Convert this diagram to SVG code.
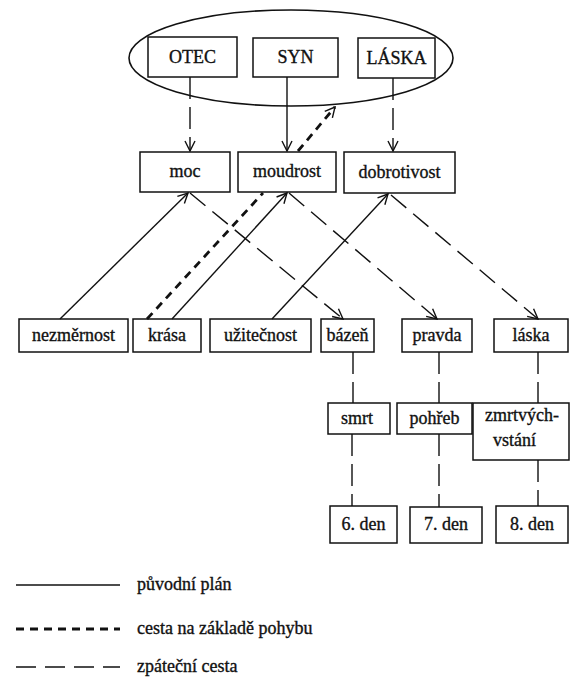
<svg xmlns="http://www.w3.org/2000/svg" width="570" height="678" viewBox="0 0 570 678">
<defs>
<style>
.box{fill:#fff;stroke:#111;stroke-width:1.5}
.t{font-family:"Liberation Serif","Times New Roman",serif;font-size:18px;fill:#111;stroke:#111;stroke-width:0.35;text-anchor:middle}
.lt{font-family:"Liberation Serif","Times New Roman",serif;font-size:18px;fill:#111;stroke:#111;stroke-width:0.35}
.solid{stroke:#111;stroke-width:1.4;fill:none}
.ldash{stroke:#111;stroke-width:1.4;fill:none;stroke-dasharray:20 9}
.vdash{stroke:#111;stroke-width:1.4;fill:none;stroke-dasharray:22 8}
.tdash{stroke:#111;stroke-width:2.8;fill:none;stroke-dasharray:8 6}
</style>
<marker id="arr" viewBox="0 0 12 12" refX="11" refY="6" markerWidth="12" markerHeight="12" markerUnits="userSpaceOnUse" orient="auto">
<path d="M1,1 L11,6 L1,11" fill="none" stroke="#111" stroke-width="1.4"/>
</marker>
</defs>
<rect width="570" height="678" fill="#fff"/>

<g id="trinity">
<ellipse cx="291" cy="58" rx="162" ry="48" fill="none" stroke="#111" stroke-width="1.6"/>
</g>
<g id="otec"><rect class="box" x="148" y="37" width="89" height="40"/><text class="t" x="192.5" y="63">OTEC</text></g>
<g id="syn"><rect class="box" x="253" y="38" width="85" height="39"/><text class="t" x="295.5" y="63">SYN</text></g>
<g id="laska-top"><rect class="box" x="358" y="38" width="77" height="40"/><text class="t" x="396.5" y="64">LÁSKA</text></g>

<g id="moc"><rect class="box" x="140" y="152" width="90" height="40"/><text class="t" x="185" y="177">moc</text></g>
<g id="moudrost"><rect class="box" x="238" y="152" width="98" height="40"/><text class="t" x="287" y="177">moudrost</text></g>
<g id="dobrotivost"><rect class="box" x="344" y="152" width="111" height="41"/><text class="t" x="399.5" y="178">dobrotivost</text></g>

<g id="nezmernost"><rect class="box" x="19" y="319" width="109" height="33"/><text class="t" x="73.5" y="341">nezměrnost</text></g>
<g id="krasa"><rect class="box" x="133" y="319" width="68" height="33"/><text class="t" x="167" y="341">krása</text></g>
<g id="uzitecnost"><rect class="box" x="210" y="319" width="101" height="33"/><text class="t" x="260.5" y="341">užitečnost</text></g>
<g id="bazen"><rect class="box" x="321" y="319" width="53" height="33"/><text class="t" x="347.5" y="341">bázeň</text></g>
<g id="pravda"><rect class="box" x="402" y="319" width="70" height="33"/><text class="t" x="437" y="341">pravda</text></g>
<g id="laska"><rect class="box" x="494" y="319" width="74" height="33"/><text class="t" x="531" y="341">láska</text></g>

<g id="smrt"><rect class="box" x="328" y="403" width="62" height="31"/><text class="t" x="357" y="424">smrt</text></g>
<g id="pohreb"><rect class="box" x="397" y="403" width="75" height="31"/><text class="t" x="434.5" y="424">pohřeb</text></g>
<g id="zmrtvychvstani"><rect class="box" x="473" y="403" width="96" height="57"/><text class="lt" x="485" y="421">zmrtvých-</text><text class="lt" x="493" y="446">vstání</text></g>

<g id="den6"><rect class="box" x="330" y="506" width="67" height="37"/><text class="t" x="363.5" y="530">6. den</text></g>
<g id="den7"><rect class="box" x="410" y="507" width="72" height="36"/><text class="t" x="446" y="530">7. den</text></g>
<g id="den8"><rect class="box" x="496" y="506" width="72" height="37"/><text class="t" x="532" y="530">8. den</text></g>

<g id="connectors">
<line class="vdash" x1="190" y1="77" x2="190" y2="151" marker-end="url(#arr)"/>
<line class="solid" x1="287" y1="77" x2="287" y2="151" marker-end="url(#arr)"/>
<line class="vdash" x1="393" y1="78" x2="393" y2="151" marker-end="url(#arr)"/>

<line class="tdash" x1="147" y1="319" x2="263" y2="193"/>
<line class="tdash" x1="298" y1="151" x2="335" y2="107" marker-end="url(#arr)"/>

<line class="solid" x1="60" y1="319" x2="188" y2="193" marker-end="url(#arr)"/>
<line class="solid" x1="172" y1="319" x2="287" y2="193" marker-end="url(#arr)"/>
<line class="solid" x1="272" y1="319" x2="388" y2="194" marker-end="url(#arr)"/>

<line class="ldash" x1="190" y1="193" x2="343" y2="319" marker-end="url(#arr)"/>
<line class="ldash" x1="289" y1="193" x2="437" y2="319" marker-end="url(#arr)"/>
<line class="ldash" x1="391" y1="195" x2="538" y2="319" marker-end="url(#arr)"/>

<line class="vdash" x1="353" y1="352" x2="353" y2="403"/>
<line class="vdash" x1="352" y1="434" x2="352" y2="506"/>
<line class="vdash" x1="439" y1="352" x2="439" y2="403"/>
<line class="vdash" x1="439" y1="434" x2="439" y2="507"/>
<line class="vdash" x1="538" y1="352" x2="538" y2="403"/>
<line class="vdash" x1="538" y1="460" x2="538" y2="506"/>
</g>

<g id="legend">
<line class="solid" x1="16" y1="585" x2="120" y2="585"/>
<text class="lt" x="137" y="590">původní plán</text>
<line class="tdash" x1="16" y1="629" x2="120" y2="629"/>
<text class="lt" x="137" y="634">cesta na základě pohybu</text>
<line class="ldash" x1="16" y1="667" x2="120" y2="667"/>
<text class="lt" x="137" y="672">zpáteční cesta</text>
</g>
</svg>
